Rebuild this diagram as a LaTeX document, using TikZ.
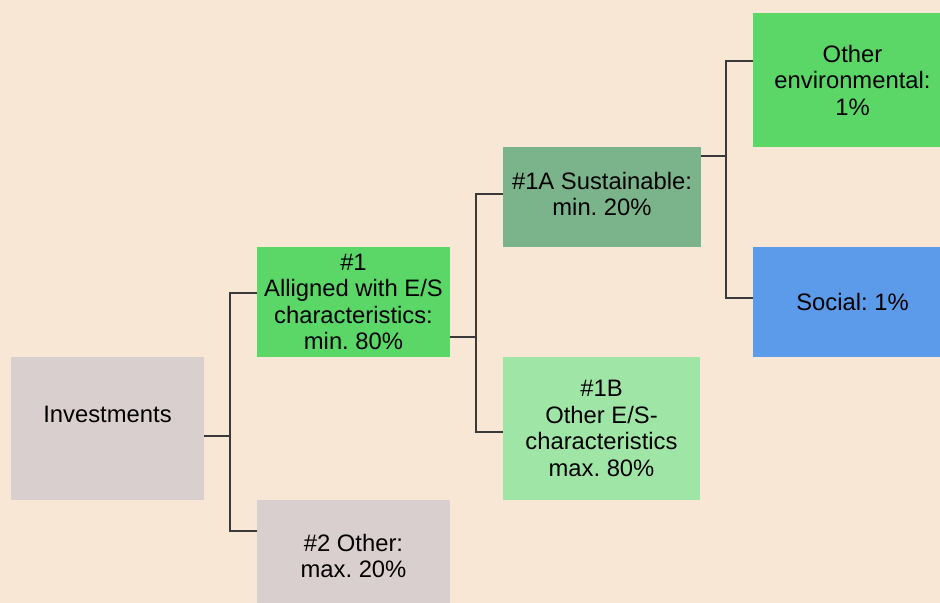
\documentclass[tikz,border=0pt]{standalone}
\usepackage{fontspec}
\setmainfont{Liberation Sans}
\definecolor{bgc}{HTML}{F9E7D5}
\definecolor{greyc}{HTML}{D9CFCE}
\definecolor{greenc}{HTML}{5AD766}
\definecolor{darkgreenc}{HTML}{7BB48A}
\definecolor{lightgreenc}{HTML}{9FE6A6}
\definecolor{bluec}{HTML}{5B9BEA}
\definecolor{linec}{HTML}{3A3A3A}
\frenchspacing
\begin{document}
\begin{tikzpicture}[x=1bp,y=-1bp,
  box/.style={rectangle,inner sep=0pt,align=center,text=black,
    font=\fontsize{23.8bp}{26.5bp}\selectfont},
  conn/.style={draw=linec,line width=1.4bp}]
\useasboundingbox (0,0) rectangle (940,603);
\clip (0,0) rectangle (940,603);
\fill[bgc] (0,0) rectangle (940,603);
\node[box,fill=greyc,minimum width=193bp,minimum height=143bp] (inv) at (107.5,428.5) {};
\node[box] (invt) at (107.5,414) {Investments};
\node[box,fill=greenc,minimum width=193bp,minimum height=110bp] (n1) at (353.5,302) {\#1\\Alligned with E/S\\characteristics:\\min. 80\%};
\node[box,fill=greyc,minimum width=193bp,minimum height=112bp] (n2) at (353.5,556) {\#2 Other:\\max. 20\%};
\node[box,fill=darkgreenc,minimum width=198bp,minimum height=100bp] (n1a) at (602,197) {};
\node[box] (n1at) at (602,194) {\#1A Sustainable:\\min. 20\%};
\node[box,fill=lightgreenc,minimum width=197bp,minimum height=143bp] (n1b) at (601.5,428.5) {\#1B\\Other E/S-\\characteristics\\max. 80\%};
\node[box,fill=greenc,minimum width=199bp,minimum height=134bp] (oe) at (852.5,80) {Other\\environmental:\\1\%};
\node[box,fill=bluec,minimum width=199bp,minimum height=110bp] (soc) at (852.5,302) {Social: 1\%};
% connectors
\draw[conn] ([yshift=-7.5bp]inv.east) -| ([xshift=-27bp,yshift=9bp]n1.west) -- ([yshift=9bp]n1.west);
\draw[conn] ([yshift=-7.5bp]inv.east) -| ([xshift=-27bp,yshift=25bp]n2.west) -- ([yshift=25bp]n2.west);
\draw[conn] ([yshift=-35bp]n1.east) -| ([xshift=-27bp,yshift=3bp]n1a.west) -- ([yshift=3bp]n1a.west);
\draw[conn] ([yshift=-35bp]n1.east) -| ([xshift=-27bp,yshift=-3.5bp]n1b.west) -- ([yshift=-3.5bp]n1b.west);
\draw[conn] ([yshift=41bp]n1a.east) -| ([xshift=-27bp,yshift=19bp]oe.west) -- ([yshift=19bp]oe.west);
\draw[conn] ([yshift=41bp]n1a.east) -| ([xshift=-27bp,yshift=4bp]soc.west) -- ([yshift=4bp]soc.west);
\end{tikzpicture}
\end{document}
